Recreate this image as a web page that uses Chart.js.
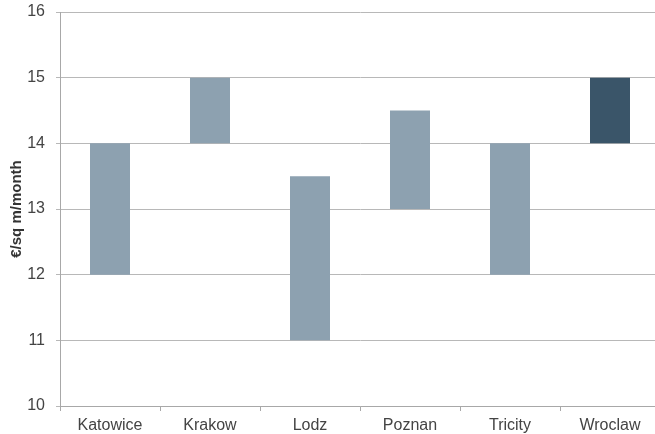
<!DOCTYPE html>
<html><head><meta charset="utf-8">
<script src="https://cdn.jsdelivr.net/npm/chart.js@4"></script>
<style>
html,body{margin:0;padding:0;overflow:hidden;background:#fff;width:655px;height:434px}
#wrap{width:660px;height:434px;position:relative}
</style></head><body>
<div id="wrap"><canvas id="c"></canvas></div>
<script>
const categories = ["Katowice","Krakow","Lodz","Poznan","Tricity","Wroclaw"];
const lows = [12, 14, 11, 13, 12, 14];
const highs = [14, 15, 13.5, 14.5, 14, 15];
const yTicks = [10, 11, 12, 13, 14, 15, 16];
const colors = ["#8da1b0","#8da1b0","#8da1b0","#8da1b0","#8da1b0","#3a5569"];

new Chart(document.getElementById('c'), {
  type: 'bar',
  data: {
    labels: categories,
    datasets: [{
      data: categories.map((_, i) => [lows[i], highs[i]]),
      backgroundColor: colors,
      borderWidth: 0,
      barPercentage: 0.4,
      categoryPercentage: 1.0
    }]
  },
  options: {
    responsive: true,
    maintainAspectRatio: false,
    animation: false,
    layout: { padding: { top: 2, left: 0, right: 0, bottom: 0 } },
    plugins: { legend: { display: false }, tooltip: { enabled: false } },
    scales: {
      x: {
        grid: { display: true, drawOnChartArea: false, drawTicks: true, tickLength: 5, color: '#a8a8a8', offset: true },
        border: { color: '#a8a8a8' },
        ticks: { color: '#444', font: { family: 'Liberation Sans', size: 16 }, padding: 5 },
        afterFit: s => { s.height = 28; }
      },
      y: {
        min: 10, max: 16,
        afterBuildTicks: s => { s.ticks = yTicks.map(v => ({ value: v })); },
        grid: { color: '#b8b8b8', tickLength: 4 },
        border: { color: '#a8a8a8' },
        ticks: { color: '#444', font: { family: 'Liberation Sans', size: 16 }, padding: 11 },
        title: { display: true, text: '€/sq m/month', color: '#333', font: { family: 'Liberation Sans', size: 15, weight: 'bold' }, padding: { top: 8, bottom: 0 } },
        afterFit: s => { s.width = 60; s.paddingTop = 12; }
      }
    }
  }
});
</script>
</body></html>
